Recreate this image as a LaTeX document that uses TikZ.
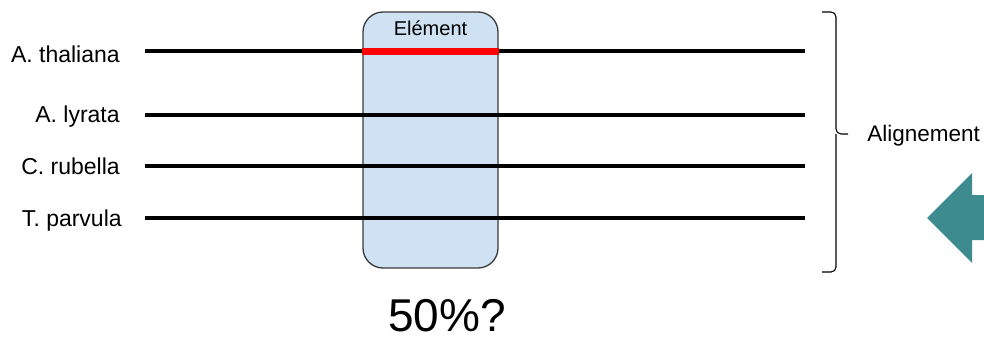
\documentclass[tikz,border=0pt]{standalone}
\usepackage{fontspec}
\setmainfont{Liberation Sans}
\usetikzlibrary{positioning}
\definecolor{boxblue}{HTML}{CFE2F3}
\definecolor{boxedge}{HTML}{3A3A3A}
\definecolor{arrowteal}{HTML}{3D8B8F}
\begin{document}
\begin{tikzpicture}[x=1pt,y=-1pt,
    semithick,
    species/.style={anchor=base east, inner sep=0pt, font=\fontsize{23}{25}\selectfont},
    seqline/.style={line width=3.5pt},
    hitline/.style={line width=7pt, red},
    elembox/.style={rectangle, rounded corners=20pt, draw=boxedge, line width=1.3pt,
      fill=boxblue, minimum width=135pt, minimum height=256pt, inner sep=0pt}
    ]
    \useasboundingbox (0,0) rectangle (984,340);

    \node[elembox] (elem) at (430.5,140) {};
    \node (elemlabel) [below = 9pt of elem.north, inner sep=0pt, font=\fontsize{20}{22}\selectfont] {Elément};

    \node[species] (thaliana) at (120,62) {A. thaliana};
    \node[species] (lyrata) at (120,122) {A. lyrata};
    \node[species] (rubella) at (120,174) {C. rubella};
    \node[species] (parvula) at (122,226) {T. parvula};

    \coordinate (s1) at (145,51);
    \coordinate (e1) at (805,51);
    \coordinate (s2) at (145,115);
    \coordinate (e2) at (805,115);
    \coordinate (s3) at (145,166);
    \coordinate (e3) at (805,166);
    \coordinate (s4) at (145,218);
    \coordinate (e4) at (805,218);
    \draw[seqline] (s1) -- (e1);
    \draw[seqline] (s2) -- (e2);
    \draw[seqline] (s3) -- (e3);
    \draw[seqline] (s4) -- (e4);
    \draw[hitline] (elem.west |- s1) -- (elem.east |- s1);

    % brace of the alignment
    \coordinate (btop) at (822,12);
    \coordinate (bbot) at (822,272);
    \coordinate (btip) at (848,134);
    \draw[line width=1.1pt, rounded corners=5pt] (btop) -- (836,12) -- (836,134) -- (btip);
    \draw[line width=1.1pt, rounded corners=5pt] (bbot) -- (836,272) -- (836,134);
    \node (align) [anchor=base west, inner sep=0pt, font=\fontsize{22.5}{24}\selectfont] at (867,141) {Alignement};

    \node (score) [inner sep=0pt, font=\fontsize{46}{50}\selectfont] at (447,316) {50\%?};

    % arrow cut by the right edge
    \fill[arrowteal] (927,218) -- (972,173) -- (972,195) -- (984,195) -- (984,240)
      -- (972,240) -- (972,263) -- cycle;
\end{tikzpicture}
\end{document}
